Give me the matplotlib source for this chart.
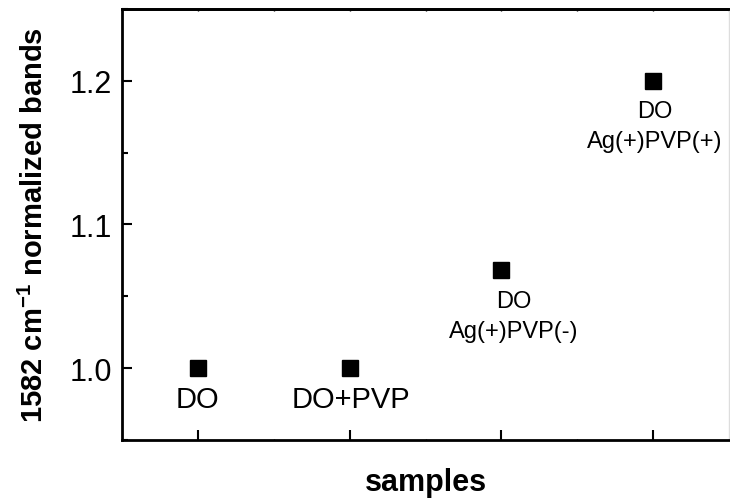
import matplotlib
matplotlib.use("Agg")
import matplotlib.pyplot as plt
from matplotlib.ticker import MultipleLocator, NullFormatter

plt.rcParams['font.family'] = ['Liberation Sans', 'DejaVu Sans']
plt.rcParams['mathtext.fontset'] = 'custom'
plt.rcParams['mathtext.rm'] = 'Liberation Sans'
plt.rcParams['mathtext.bf'] = 'Liberation Sans:bold'

# data
x_pos = [1, 2, 3, 4]
values = [1.0, 1.0, 1.068, 1.2]
labels = ["DO", "DO+PVP", "DO\nAg(+)PVP(-)", "DO\nAg(+)PVP(+)"]
label_sizes = [21, 21, 17, 17]
label_offsets = [(0, -12), (1, -12), (9, -14), (1, -14)]
y_ticks = [1.0, 1.1, 1.2]

fig = plt.figure(figsize=(7.3, 5.02), dpi=100)
ax = fig.add_axes([122/730, 1-441/502, (729-122)/730, (441-10)/502])

ax.plot(x_pos, values, linestyle='none', marker='s', markersize=12,
        markerfacecolor='black', markeredgecolor='black', markeredgewidth=1)

for xv, yv, lab, fs, off in zip(x_pos, values, labels, label_sizes, label_offsets):
    ax.annotate(lab, (xv, yv), xytext=off, textcoords='offset points',
                ha='center', va='top', fontsize=fs, linespacing=1.45,
                multialignment='center')

ax.set_xlim(0.5, 4.5)
ax.set_ylim(0.95, 1.25)
ax.set_xticks(x_pos)
ax.xaxis.set_major_formatter(NullFormatter())
ax.xaxis.set_minor_locator(MultipleLocator(0.5))
ax.set_yticks(y_ticks)
ax.set_yticklabels([f"{v:.1f}" for v in y_ticks])
ax.yaxis.set_minor_locator(MultipleLocator(0.05))

ax.tick_params(axis='both', which='major', direction='in', length=7, width=1.5,
               labelsize=22, pad=7)
ax.tick_params(axis='y', which='minor', direction='in', length=4, width=1.5)
ax.tick_params(axis='x', which='minor', direction='in', length=1, width=1)
ax.tick_params(axis='both', which='both', top=False, right=False)

# tiny ticks along the top spine
top = ax.secondary_xaxis('top')
top.xaxis.set_major_locator(MultipleLocator(0.5))
top.xaxis.set_major_formatter(NullFormatter())
top.tick_params(direction='in', length=1.5, width=1)
top.spines['top'].set_linewidth(2)

for s in ['left', 'bottom', 'top']:
    ax.spines[s].set_linewidth(2)
    ax.spines[s].set_color('black')
ax.spines['right'].set_linewidth(1)
ax.spines['right'].set_color('#dddddd')

ax.set_xlabel('samples', fontsize=22, fontweight='bold', va='center')
ax.xaxis.set_label_coords(0.5, -42/431)
ax.set_ylabel('1582 cm$^{\\mathregular{-1}}$ normalized bands', fontsize=21,
              fontweight='bold', va='center')
ax.yaxis.set_label_coords(-88/607, 0.5)

fig.savefig('out.png', dpi=100)
